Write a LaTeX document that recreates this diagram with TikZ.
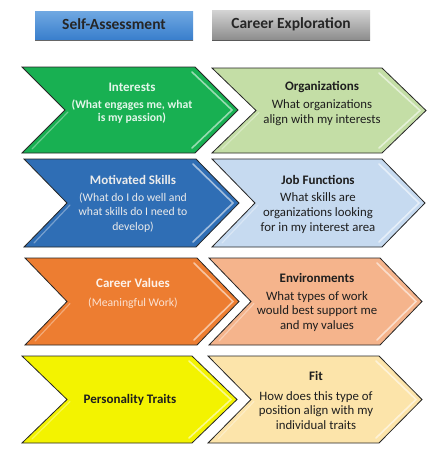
\documentclass[tikz,border=0pt]{standalone}
\usepackage{fontspec}
\setmainfont{Carlito}
\usetikzlibrary{calc}
\definecolor{cgreen}{RGB}{24,176,82}
\definecolor{cgreenl}{RGB}{196,222,166}
\definecolor{cblue}{RGB}{47,110,181}
\definecolor{cbluel}{RGB}{198,218,240}
\definecolor{corange}{RGB}{237,125,49}
\definecolor{corangel}{RGB}{245,180,140}
\definecolor{cyellow}{RGB}{243,243,0}
\definecolor{cyellowl}{RGB}{252,228,170}
\definecolor{hbluet}{RGB}{112,168,226}
\definecolor{hblueb}{RGB}{56,126,204}
\definecolor{hgrayt}{RGB}{212,212,212}
\definecolor{hgrayb}{RGB}{140,140,140}
\definecolor{darktext}{RGB}{30,30,30}
\newcommand\chevronshape[6]{%
  \fill[#6] (#1,-#3) -- (#2,-#3) -- ({#2+#5},{-(#3+#4)/2}) -- (#2,-#4) -- (#1,-#4) -- ({#1+#5},{-(#3+#4)/2}) -- cycle;
  \draw[white,opacity=0.55,line width=1.6pt,line cap=round] ({#2-3},{-#3-5}) -- ({#2+#5-6},{-(#3+#4)/2}) -- ({#2-3},{-#4+5});
  \draw[white,opacity=0.35,line width=1.2pt,line cap=round] ({#1+#5+3},{-(#3+#4)/2-2}) -- ({#1+10},{-#4+4});
  \draw[chevline] (#1,-#3) -- (#2,-#3) -- ({#2+#5},{-(#3+#4)/2}) -- (#2,-#4) -- (#1,-#4) -- ({#1+#5},{-(#3+#4)/2}) -- cycle;
}
\begin{document}
\begin{tikzpicture}[x=1pt,y=1pt,
  chevline/.style={draw=black!85,line width=0.8pt,line join=miter},
  headbox/.style={minimum width=158pt,minimum height=30pt,inner sep=0pt,font=\fontsize{15.5}{17}\selectfont\bfseries,text=black!85},
  ltitle/.style={font=\fontsize{13}{15}\selectfont\bfseries,text=white!92!black,align=center},
  lbody/.style={font=\fontsize{11.7}{14.5}\selectfont,text=white!92!black,align=center},
  rtitle/.style={font=\fontsize{13}{15}\selectfont\bfseries,text=darktext,align=center},
  rbody/.style={font=\fontsize{12.8}{14.8}\selectfont,text=darktext,align=center}]
\useasboundingbox (0,0) rectangle (433,-450);
\fill[white] (0,0) rectangle (433,-450);
% headers
\shade[top color=hbluet,bottom color=hblueb] (35,-11) rectangle (193,-40);
\draw[black!60,line width=0.8pt] (35,-40) -- (193,-40);
\shade[top color=hgrayt,bottom color=hgrayb] (212,-10) rectangle (370,-40);
\draw[black!65,line width=0.8pt] (212,-40) -- (370,-40);
\node[headbox] (selfa) at (114,-24.5) {Self-Assessment};
\node[headbox] (career) at (291,-24) {Career Exploration};
% chevrons
\chevronshape{22}{195}{67}{153}{43}{cgreen}
\chevronshape{212}{382}{68}{153}{44}{cgreenl}
\chevronshape{24}{196}{159}{247}{43}{cblue}
\chevronshape{212}{382}{159}{247}{43}{cbluel}
\chevronshape{25}{197}{258}{345}{42}{corange}
\chevronshape{209}{380}{258}{345}{42}{corangel}
\chevronshape{22}{192}{356}{443}{45}{cyellow}
\chevronshape{208}{379}{356}{443}{43}{cyellowl}
% row 1
\node[ltitle,text=white!88!cgreen] (t1) at (132,-87) {Interests};
\node[lbody,text=white!88!cgreen,font=\fontsize{11.7}{12.5}\selectfont\bfseries] (b1) at (132,-111.5) {(What engages me, what\\is my passion)};
\node[rtitle] (u1) at (322,-87) {Organizations};
\node[rbody] (c1) at (322,-112.5) {What organizations\\align with my interests};
% row 2
\node[ltitle] (t2) at (133,-180) {Motivated Skills};
\node[lbody] (b2) at (133,-212.5) {(What do I do well and\\what skills do I need to\\develop)};
\node[rtitle] (u2) at (318,-180) {Job Functions};
\node[rbody] (c2) at (318,-213) {What skills are\\organizations looking\\for in my interest area};
% row 3
\node[ltitle,text=white!90!corange] (t3) at (133,-283) {Career Values};
\node[lbody,text=white!78!corange] (b3) at (133,-303) {(Meaningful Work)};
\node[rtitle] (u3) at (317,-278) {Environments};
\node[rbody] (c3) at (317,-311.5) {What types of work\\would best support me\\and my values};
% row 4
\node[ltitle,text=darktext] (t4) at (130,-400) {Personality Traits};
\node[rtitle] (u4) at (316,-376) {Fit};
\node[rbody] (c4) at (316,-410.5) {How does this type of\\position align with my\\individual traits};
\end{tikzpicture}
\end{document}
